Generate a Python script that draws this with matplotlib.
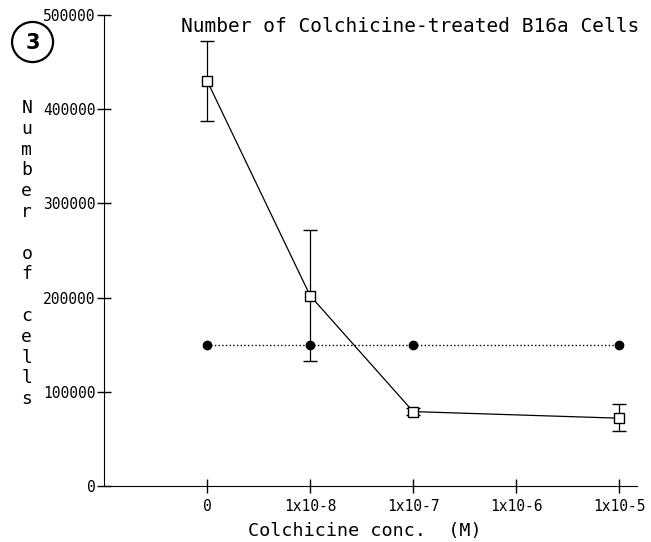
import matplotlib
matplotlib.use("Agg")
import matplotlib.pyplot as plt
from matplotlib.patches import Ellipse

# --- Data ---
conc_labels = ["0", "1x10-8", "1x10-7", "1x10-6", "1x10-5"]
treated_pos = [0, 1, 2, 4]
treated_mean = [430000, 202000, 79000, 72000]
treated_err_hi = [42000, 70000, 4000, 15000]
treated_err_lo = [42000, 69000, 4000, 14000]
control_pos = [0, 1, 2, 4]
control_mean = [150000, 150000, 150000, 150000]
y_ticks = [0, 100000, 200000, 300000, 400000, 500000]

plt.rcParams['font.family'] = ['DejaVu Sans Mono']

fig = plt.figure(figsize=(6.51, 5.42), dpi=100)
ax = fig.add_axes([0.16, 0.1033, 0.818, 0.869])

ax.plot(control_pos, control_mean, color='black', linestyle=':', linewidth=1.0,
        marker='o', markersize=6, markerfacecolor='black')
ax.errorbar(treated_pos, treated_mean, yerr=[treated_err_lo, treated_err_hi],
            color='black', linewidth=0.9, elinewidth=0.9, capsize=5,
            marker='s', markersize=7, markerfacecolor='white',
            markeredgecolor='black', markeredgewidth=1.0)

ax.set_xlim(-1, 4.17)
ax.set_ylim(0, 500000)
ax.set_xticks(range(len(conc_labels)))
ax.set_xticklabels(conc_labels)
ax.set_yticks(y_ticks)
ax.set_yticklabels([str(v) for v in y_ticks])
ax.tick_params(direction='inout', length=10, width=1, labelsize=10.5, pad=1)
ax.tick_params(axis='x', pad=4)
for s in ['top', 'right']:
    ax.spines[s].set_visible(False)

fig.text(0.630, 0.951, "Number of Colchicine-treated B16a Cells",
         ha='center', va='center', fontsize=14)
fig.text(0.561, 0.021, "Colchicine conc.  (M)", ha='center', va='center',
         fontsize=13.2)
fig.text(0.041, 0.532, "N\nu\nm\nb\ne\nr\n\no\nf\n\nc\ne\nl\nl\ns",
         ha='center', va='center', fontsize=13, linespacing=1.2)

# circled panel number
fig.patches.append(Ellipse((0.050, 0.9225), 0.063, 0.074,
                           transform=fig.transFigure, fill=False,
                           edgecolor='black', linewidth=1.6))
fig.text(0.050, 0.921, "3", ha='center', va='center', fontsize=15,
         fontweight='bold', family=['Liberation Sans Narrow', 'DejaVu Sans'])

fig.savefig("out.png", dpi=100)
